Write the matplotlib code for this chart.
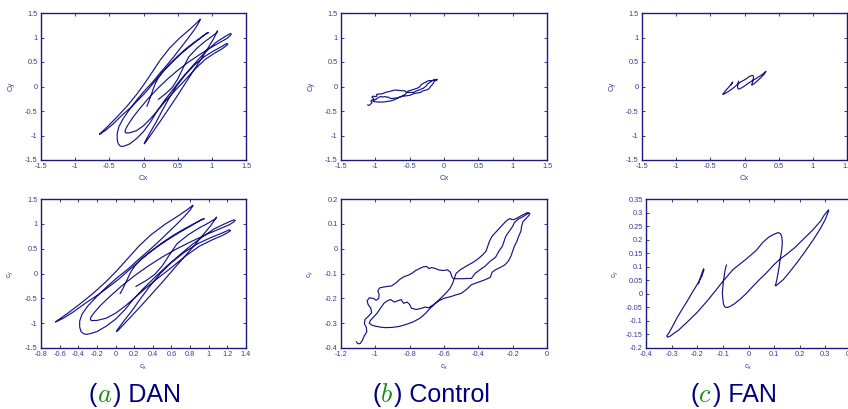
import matplotlib
matplotlib.use('Agg')
import matplotlib.pyplot as plt
from matplotlib.ticker import FixedLocator, FixedFormatter

plt.rcParams['font.family'] = ['Liberation Sans', 'DejaVu Sans']
plt.rcParams['mathtext.fontset'] = 'cm'

# ---------------- data ----------------
dan_cx = [0.05, 0.08, 0.11, 0.14, 0.17, 0.21, 0.27, 0.35, 0.45, 0.56, 0.68, 0.80, 0.88, 0.93, 0.95,
          0.93, 0.85, 0.74, 0.62, 0.50, 0.38, 0.26, 0.14, 0.03, -0.06, -0.18, -0.31, -0.45, -0.56, -0.625,
          -0.645, -0.63, -0.52, -0.38, -0.24, -0.10, 0.02, 0.13, 0.25, 0.38, 0.53, 0.68, 0.78, 0.83,
          0.83, 0.80, 0.74, 0.65, 0.55, 0.45, 0.35, 0.25, 0.14, 0.02, -0.09, -0.20, -0.30, -0.36, -0.385, -0.385, -0.37, -0.34, -0.31,
          -0.27, -0.20, -0.10, 0.00, 0.10, 0.20, 0.30, 0.42, 0.55, 0.68, 0.82, 0.95, 1.06, 1.16, 1.23, 1.27, 1.285,
          1.27, 1.22, 1.12, 0.98, 0.82, 0.66, 0.50, 0.35, 0.20, 0.06, -0.06, -0.16, -0.23, -0.265, -0.27,
          -0.255, -0.20, -0.10, 0.00, 0.10, 0.20, 0.32, 0.45, 0.60, 0.75, 0.90, 1.04, 1.14, 1.20, 1.235,
          1.22, 1.15, 1.02, 0.88, 0.74, 0.60, 0.48, 0.37, 0.27, 0.18, 0.10, 0.04, 0.015, 0.01,
          0.03, 0.08, 0.16, 0.26, 0.37, 0.49, 0.61, 0.73, 0.84, 0.94, 1.02, 1.065, 1.085,
          1.07, 1.00, 0.90, 0.78, 0.66, 0.58, 0.50, 0.42, 0.33, 0.22]
dan_cy = [-0.40, -0.30, -0.18, -0.06, 0.05, 0.16, 0.28, 0.40, 0.54, 0.68, 0.82, 0.95, 1.04, 1.09, 1.10,
          1.09, 1.01, 0.90, 0.77, 0.62, 0.45, 0.26, 0.06, -0.12, -0.25, -0.42, -0.58, -0.77, -0.90, -0.96,
          -0.975, -0.955, -0.81, -0.61, -0.40, -0.16, 0.07, 0.30, 0.55, 0.78, 0.99, 1.17, 1.30, 1.375,
          1.36, 1.28, 1.15, 0.98, 0.80, 0.62, 0.45, 0.29, 0.10, -0.08, -0.26, -0.46, -0.66, -0.82, -0.96, -1.08, -1.17, -1.215, -1.225,
          -1.21, -1.17, -1.06, -0.92, -0.73, -0.50, -0.30, -0.08, 0.15, 0.36, 0.58, 0.76, 0.90, 0.99, 1.05, 1.08, 1.07,
          1.04, 0.98, 0.90, 0.79, 0.65, 0.50, 0.33, 0.15, -0.05, -0.26, -0.46, -0.64, -0.79, -0.88, -0.93,
          -0.948, -0.945, -0.90, -0.80, -0.66, -0.50, -0.30, -0.10, 0.12, 0.35, 0.55, 0.68, 0.76, 0.82, 0.865,
          0.88, 0.82, 0.72, 0.60, 0.43, 0.22, 0.00, -0.25, -0.50, -0.74, -0.93, -1.08, -1.15, -1.17,
          -1.14, -1.04, -0.88, -0.68, -0.45, -0.20, 0.06, 0.32, 0.55, 0.78, 0.96, 1.08, 1.135,
          1.10, 1.02, 0.92, 0.78, 0.60, 0.38, 0.15, -0.02, -0.14, -0.26]

ctrl_cx = [-1.110, -1.102, -1.088, -1.076, -1.065, -1.050, -1.052, -1.064, -1.060, -1.040, -1.022, -1.026,
           -1.042, -1.048, -1.035, -1.012, -0.995, -0.980, -0.978, -0.985, -0.975, -0.955,
           -0.930, -0.905, -0.880, -0.855, -0.830, -0.805, -0.785, -0.765, -0.742, -0.720, -0.700, -0.688,
           -0.672, -0.650, -0.628, -0.605, -0.580, -0.562, -0.556, -0.548, -0.520, -0.490, -0.460, -0.440,
           -0.420, -0.390, -0.360, -0.330, -0.300, -0.280, -0.260, -0.250, -0.240, -0.220, -0.200, -0.190,
           -0.170, -0.150, -0.130, -0.115, -0.105, -0.100,
           -0.110, -0.125, -0.140, -0.148, -0.152, -0.165, -0.175, -0.190, -0.200, -0.210, -0.225, -0.245,
           -0.270, -0.300, -0.320, -0.330, -0.360, -0.400, -0.440, -0.470, -0.500, -0.530,
           -0.560, -0.600, -0.630, -0.660, -0.690, -0.710, -0.730, -0.760, -0.790, -0.800, -0.815, -0.835,
           -0.850, -0.870, -0.890, -0.910, -0.930, -0.950, -0.970, -0.990, -1.010, -1.030,
           -1.035, -1.020, -1.000, -0.970, -0.940, -0.900, -0.860, -0.820, -0.780, -0.740, -0.710, -0.680,
           -0.650, -0.620, -0.590, -0.565, -0.550, -0.540, -0.530, -0.505, -0.470, -0.430, -0.400, -0.375,
           -0.355, -0.345, -0.335, -0.320, -0.300, -0.280, -0.260, -0.240, -0.225, -0.214, -0.205, -0.190,
           -0.170, -0.150, -0.130, -0.115, -0.105]
ctrl_cy = [-0.375, -0.383, -0.382, -0.370, -0.352, -0.335, -0.318, -0.302, -0.285, -0.272, -0.258, -0.240,
           -0.225, -0.210, -0.198, -0.200, -0.208, -0.200, -0.185, -0.170, -0.158, -0.155,
           -0.152, -0.150, -0.138, -0.122, -0.112, -0.106, -0.098, -0.088, -0.080, -0.073, -0.072, -0.080,
           -0.076, -0.080, -0.086, -0.088, -0.085, -0.095, -0.110, -0.120, -0.121, -0.121, -0.120, -0.120,
           -0.100, -0.085, -0.070, -0.050, -0.035, -0.010, 0.010, 0.030, 0.050, 0.070, 0.090, 0.105,
           0.118, 0.125, 0.133, 0.140, 0.143, 0.140,
           0.130, 0.120, 0.108, 0.090, 0.070, 0.050, 0.030, 0.010, -0.010, -0.030, -0.050, -0.065,
           -0.075, -0.085, -0.095, -0.115, -0.125, -0.135, -0.145, -0.165, -0.180, -0.186,
           -0.193, -0.200, -0.210, -0.225, -0.238, -0.235, -0.240, -0.245, -0.240, -0.225, -0.215, -0.220,
           -0.205, -0.210, -0.215, -0.205, -0.210, -0.220, -0.240, -0.260, -0.275, -0.290,
           -0.300, -0.308, -0.312, -0.316, -0.318, -0.317, -0.313, -0.305, -0.295, -0.280, -0.262, -0.240,
           -0.220, -0.200, -0.180, -0.160, -0.140, -0.120, -0.100, -0.085, -0.070, -0.055, -0.040, -0.025,
           -0.010, 0.010, 0.030, 0.050, 0.065, 0.080, 0.095, 0.110, 0.118, 0.121, 0.117, 0.118,
           0.125, 0.133, 0.140, 0.145, 0.143]

fan_cx = [-0.195, -0.188, -0.179, -0.175, -0.174, -0.182, -0.200, -0.221, -0.241, -0.261, -0.280, -0.294,
          -0.311, -0.319, -0.316, -0.305, -0.290, -0.274, -0.240, -0.200, -0.160, -0.130, -0.100, -0.060,
          -0.010, 0.030, 0.056, 0.080, 0.100, 0.115, 0.125, 0.130, 0.132, 0.130, 0.127, 0.123, 0.120,
          0.116, 0.112, 0.107, 0.104, 0.108, 0.115, 0.136, 0.160, 0.189, 0.220, 0.255, 0.280, 0.300,
          0.312, 0.313, 0.308, 0.295, 0.281, 0.250, 0.215, 0.180, 0.149, 0.122, 0.100, 0.070, 0.040,
          0.017, -0.010, -0.036, -0.055, -0.069, -0.080, -0.089, -0.095, -0.098, -0.100, -0.102, -0.100,
          -0.098, -0.095, -0.092, -0.088, -0.086]
fan_cy = [0.0375, 0.059, 0.084, 0.0925, 0.088, 0.065, 0.035, 0.0025, -0.030, -0.060, -0.090, -0.116,
          -0.145, -0.155, -0.160, -0.156, -0.145, -0.135, -0.105, -0.068, -0.025, 0.010, 0.046, 0.090,
          0.1275, 0.160, 0.190, 0.210, 0.220, 0.226, 0.222, 0.210, 0.190, 0.165, 0.146, 0.125, 0.1025,
          0.080, 0.059, 0.0375, 0.030, 0.030, 0.036, 0.0525, 0.080, 0.115, 0.155, 0.2025, 0.240, 0.275,
          0.305, 0.310, 0.305, 0.290, 0.268, 0.235, 0.2025, 0.170, 0.146, 0.1275, 0.108, 0.0775, 0.050,
          0.0275, 0.000, -0.0225, -0.037, -0.045, -0.050, -0.050, -0.045, -0.035, -0.020, 0.0025, 0.025,
          0.046, 0.065, 0.084, 0.100, 0.106]

wide_ticks = [-1.5, -1, -0.5, 0, 0.5, 1, 1.5]
dan_xticks = [-0.8, -0.6, -0.4, -0.2, 0, 0.2, 0.4, 0.6, 0.8, 1, 1.2, 1.4]
dan_yticks = [-1.5, -1, -0.5, 0, 0.5, 1, 1.5]
ctrl_xticks = [-1.2, -1, -0.8, -0.6, -0.4, -0.2, 0]
ctrl_yticks = [-0.4, -0.3, -0.2, -0.1, 0, 0.1, 0.2]
fan_xticks = [-0.4, -0.3, -0.2, -0.1, 0, 0.1, 0.2, 0.3, 0.4]
fan_yticks = [-0.2, -0.15, -0.1, -0.05, 0, 0.05, 0.1, 0.15, 0.2, 0.25, 0.3, 0.35]

captions = [("a", "DAN"), ("b", "Control"), ("c", "FAN")]

# ---------------- figure ----------------
W, H = 848, 409
fig = plt.figure(figsize=(W / 100, H / 100), dpi=100)

LINE = '#141487'
SPINE = '#1a1a80'
TXT = '#3a3a98'
NAVY = '#000080'
GREEN = '#1a8c1a'


def add_ax(l, t, r, b):
    return fig.add_axes([l / W, 1 - b / H, (r - l) / W, (b - t) / H])


def fmt(v):
    return '%g' % v


def style(ax, xt, yt, xl, yl, hpx, wpx):
    ax.set_xlim(xt[0], xt[-1])
    ax.set_ylim(yt[0], yt[-1])
    ax.xaxis.set_major_locator(FixedLocator(xt))
    ax.yaxis.set_major_locator(FixedLocator(yt))
    ax.xaxis.set_major_formatter(FixedFormatter([fmt(v) for v in xt]))
    ax.yaxis.set_major_formatter(FixedFormatter([fmt(v) for v in yt]))
    ax.tick_params(direction='in', length=2.5, width=0.6, top=True, right=True,
                   labelsize=5.3, labelcolor=TXT, color=SPINE, pad=2.5)
    for s in ax.spines.values():
        s.set_color(SPINE)
        s.set_linewidth(1.0)
    ax.set_xlabel(xl, fontsize=5.5, color=TXT)
    ax.set_ylabel(yl, fontsize=5.5, color=TXT)
    ax.xaxis.set_label_coords(0.5, -15.0 / hpx)
    ax.yaxis.set_label_coords(-26.0 / wpx, 0.5)


cols = [(41, 246), (341, 547), (642, 847)]
cols_bot = [(41, 246), (341, 547), (646, 851)]
series = [(dan_cx, dan_cy), (ctrl_cx, ctrl_cy), (fan_cx, fan_cy)]
bot_ticks = [(dan_xticks, dan_yticks), (ctrl_xticks, ctrl_yticks), (fan_xticks, fan_yticks)]

for i in range(3):
    cx, cy = series[i]
    l, r = cols[i]
    ax = add_ax(l, 13, r, 160)
    ax.plot(cx, cy, color=LINE, lw=0.85)
    style(ax, wide_ticks, wide_ticks, 'Cx', 'Cy', 147, r - l)

    l, r = cols_bot[i]
    ax2 = add_ax(l, 199, r, 348)
    ax2.plot(cx, cy, color=LINE, lw=0.85)
    xt, yt = bot_ticks[i]
    style(ax2, xt, yt, r'$\mathregular{c_x}$', r'$\mathregular{c_y}$', 149, r - l)

# captions (rainbow text)
fig.canvas.draw()
renderer = fig.canvas.get_renderer()
cap_left = [89, 372, 690]
base_y = 1 - 402.0 / H
for (letter, name), x0 in zip(captions, cap_left):
    x = x0 / W
    t1 = fig.text(x, base_y, '(', fontsize=18, color=NAVY, va='baseline')
    ext = t1.get_window_extent(renderer)
    t2 = fig.text(ext.x1 / W, base_y, '$' + letter + '$', fontsize=19, color=GREEN, va='baseline')
    ext = t2.get_window_extent(renderer)
    fig.text(ext.x1 / W + 0.001, base_y, ') ' + name, fontsize=18, color=NAVY, va='baseline')

fig.savefig('out.png', dpi=100)
